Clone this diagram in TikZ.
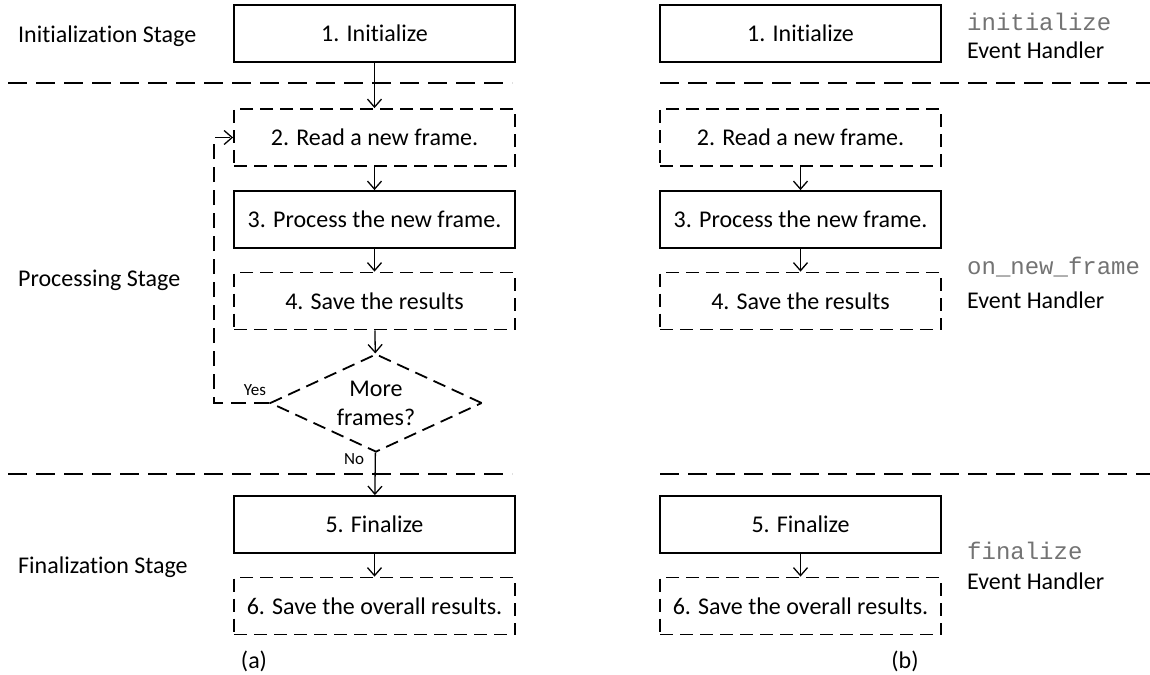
\documentclass[tikz,border=0pt]{standalone}
\usepackage{fontspec}
\setmainfont{Carlito}[RawFeature=-liga]
\newfontfamily\codefont{Liberation Mono}
\usetikzlibrary{shapes.geometric,arrows.meta}
\begin{document}
\begin{tikzpicture}[x=1pt,y=-1pt,
  txt/.style={font=\fontsize{24}{29}\selectfont},
  solidbox/.style={draw, line width=1.8pt, minimum width=281pt, minimum height=57pt, inner sep=0pt, txt},
  dashbox/.style={solidbox, dash pattern=on 13pt off 7pt},
  flow/.style={line width=1.3pt, -{Straight Barb[length=8pt,width=14pt,line width=1.3pt]}},
  loopline/.style={flow, dash pattern=on 15pt off 8pt},
  sep/.style={line width=1.6pt, dash pattern=on 19pt off 9pt},
  stage/.style={txt, anchor=west, inner sep=0pt},
  small/.style={font=\fontsize{17}{20}\selectfont, inner sep=0pt},
  code/.style={font=\codefont\fontsize{24}{28}\selectfont, anchor=west, inner sep=0pt, text=black!55},
]
\useasboundingbox (0,0) rectangle (1150,674);

% stage separators
\draw[sep] (8,83) -- (512,83);
\draw[sep] (660,83) -- (1150,83);
\draw[sep] (8,474) -- (512,474);
\draw[sep] (660,474) -- (1150,474);

% stage names
\node[stage] (st1) at (18,36) {Initialization Stage};
\node[stage] (st2) at (18,280) {Processing Stage};
\node[stage] (st3) at (18,567) {Finalization Stage};

% (a) sequential flow
\node[solidbox] (a1) at (374.5,33.5) {1. Initialize};
\node[dashbox]  (a2) at (374.5,137.5) {2. Read a new frame.};
\node[solidbox] (a3) at (374.5,219.5) {3. Process the new frame.};
\node[dashbox]  (a4) at (374.5,301) {4. Save the results};
\node[draw, diamond, aspect=2.16, minimum width=212pt, minimum height=98pt,
      inner sep=0pt, line width=1.8pt, dash pattern=on 13pt off 7pt, txt,
      align=center] (dec) at (376,403) {More\\frames?};
\node[solidbox] (a5) at (374.5,524.5) {5. Finalize};
\node[dashbox]  (a6) at (374.5,606) {6. Save the overall results.};

\draw[flow] (a1) -- (a2);
\draw[flow] (a2) -- (a3);
\draw[flow] (a3) -- (a4);
\draw[flow] (a4) -- (dec);
\draw[flow] (dec) -- (a5);
\draw[flow] (a5) -- (a6);
\coordinate (loopx) at (214,403);
\draw[loopline] (dec.west) -- (loopx) |- (a2.west);
\node[small] (yes) at (255,390) {Yes};
\node[small] (no) at (354,459) {No};
\node[txt] (capa) at (254,661) {(a)};

% (b) event handlers
\node[solidbox] (b1) at (800.5,33.5) {1. Initialize};
\node[dashbox]  (b2) at (800.5,137.5) {2. Read a new frame.};
\node[solidbox] (b3) at (800.5,219.5) {3. Process the new frame.};
\node[dashbox]  (b4) at (800.5,301) {4. Save the results};
\node[solidbox] (b5) at (800.5,524.5) {5. Finalize};
\node[dashbox]  (b6) at (800.5,606) {6. Save the overall results.};

\draw[flow] (b2) -- (b3);
\draw[flow] (b3) -- (b4);
\draw[flow] (b5) -- (b6);
\node[txt] (capb) at (905,661) {(b)};

\node[code]  (h1) at (967,22) {initialize};
\node[stage] (e1) at (967,50) {Event Handler};
\node[code]  (h2) at (967,267) {on\_new\_frame};
\node[stage] (e2) at (967,300) {Event Handler};
\node[code]  (h3) at (967,551) {finalize};
\node[stage] (e3) at (967,581) {Event Handler};
\end{tikzpicture}
\end{document}
